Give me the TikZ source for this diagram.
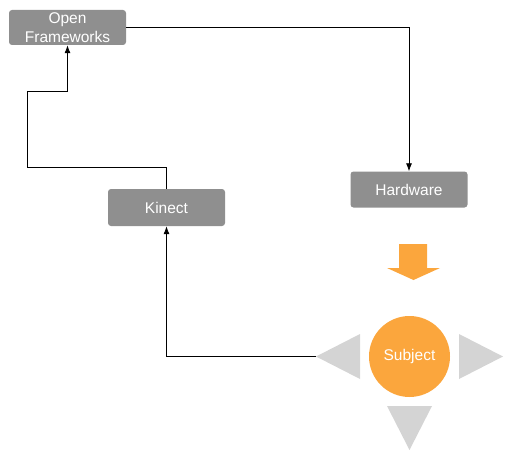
\documentclass[tikz,border=0pt]{standalone}
\usepackage{fontspec}
\setmainfont{Liberation Sans}
\usetikzlibrary{arrows.meta}

\definecolor{boxgray}{HTML}{8F8F8F}
\definecolor{subjorange}{HTML}{FBA63D}
\definecolor{trigray}{HTML}{D4D4D4}

\tikzset{
  block/.style={fill=boxgray, rounded corners=3pt, text=white, minimum width=117pt,
    minimum height=35pt, inner sep=0pt, align=center, font=\fontsize{15.5}{19}\selectfont},
  link/.style={-{Latex[length=8pt,width=6pt]}, line width=0.8pt},
  pointer/.style={fill=trigray},
}

\begin{document}
\begin{tikzpicture}[x=1pt,y=-1pt]
    \useasboundingbox (0,0) rectangle (513,460);
    \node[block] (of) at (67.5,27.5) {Open\\Frameworks};
    \node[block, minimum height=36pt] (hw) at (409,189.5) {Hardware};
    \node[block, minimum height=37pt] (kin) at (166.5,207.5) {Kinect};
    \node[circle, fill=subjorange, minimum size=81pt, inner sep=0pt, text=white,
      font=\fontsize{15.5}{19}\selectfont] (subj) at (409.5,356.5) {Subject};
    % arrows round the subject
    \coordinate (lefttip) at (316,356.5);
    \fill[pointer] (lefttip) -- (360,334) -- (360,379) -- cycle;
    \fill[pointer] (503,356.5) -- (459,334) -- (459,379) -- cycle;
    \fill[pointer] (387,406) -- (432,406) -- (409.5,450) -- cycle;
    \fill[subjorange] (399,244) -- (427,244) -- (427,268) -- (440,268) -- (413.5,280)
      -- (387,268) -- (399,268) -- cycle;
    % connectors
    \draw[link] (of.east) -| (hw.north);
    \draw[link] (kin.north) -- (kin.north |- 0,167) -| (27,91) -| (of.south);
    \draw[link] (lefttip) -| (kin.south);
\end{tikzpicture}
\end{document}
